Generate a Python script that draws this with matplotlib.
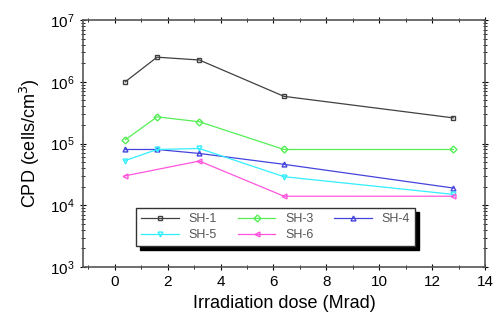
import numpy as np
import matplotlib.pyplot as plt

plt.rcParams['font.family'] = ['Liberation Sans', 'DejaVu Sans']

dose = [0.4, 1.6, 3.2, 6.4, 12.8]
dose6 = [0.4, 3.2, 6.4, 12.8]

sh1 = [1.0e6, 2.5e6, 2.25e6, 5.8e5, 2.6e5]
sh3 = [1.15e5, 2.7e5, 2.25e5, 8.0e4, 8.0e4]
sh4 = [8.0e4, 8.0e4, 6.9e4, 4.6e4, 1.9e4]
sh5 = [5.3e4, 8.0e4, 8.3e4, 2.9e4, 1.5e4]
sh6 = [3.0e4, 5.2e4, 1.4e4, 1.4e4]

fig = plt.figure(figsize=(4.94, 3.2), dpi=100)
ax = fig.add_axes([83/494, 53/320, 402/494, 247/320])

l1, = ax.plot(dose, sh1, color='#404040', marker='s', ms=3.5, mfc='none', lw=0.9, label='SH-1')
l3, = ax.plot(dose, sh3, color='#55ee55', marker='D', ms=3.5, mfc='none', lw=0.9, label='SH-3')
l4, = ax.plot(dose, sh4, color='#4444dd', marker='^', ms=3.5, mfc='none', lw=0.9, label='SH-4')
l5, = ax.plot(dose, sh5, color='#33eeff', marker='v', ms=3.5, mfc='none', lw=0.9, label='SH-5')
l6, = ax.plot(dose6, sh6, color='#ff55dd', marker='<', ms=3.5, mfc='none', lw=0.9, label='SH-6')

ax.set_yscale('log')
ax.set_ylim(1e3, 1e7)
ax.set_xlim(-1.2, 14)
ax.set_xticks([0, 2, 4, 6, 8, 10, 12, 14])
ax.set_xticks(np.arange(-1, 14, 1), minor=True)
ax.tick_params(which='both', direction='inout', top=True, right=True, labelsize=11)
ax.tick_params(which='major', length=5)
ax.tick_params(which='minor', length=3)
for s in ax.spines.values():
    s.set_color('#555555')
    s.set_linewidth(1.2)

ax.set_xlabel('Irradiation dose (Mrad)', fontsize=13)
ax.set_ylabel('CPD (cells/cm$^3$)', fontsize=13, labelpad=6)

# row-wise order in the legend
handles = [l1, l5, l3, l6, l4]
leg = ax.legend(handles, [h.get_label() for h in handles], ncol=3, loc='lower left',
                bbox_to_anchor=(0.117, 0.06, 0.725, 0.18),
                mode='expand', fontsize=9, frameon=True, fancybox=False,
                shadow={'color': 'black', 'alpha': 1, 'ox': 3, 'oy': -3},
                handlelength=3, columnspacing=1.0, borderpad=0.4, labelspacing=0.3)
leg.get_frame().set_edgecolor('#333333')
for t in leg.get_texts():
    t.set_color('#555555')

fig.savefig('out.png', dpi=100)
